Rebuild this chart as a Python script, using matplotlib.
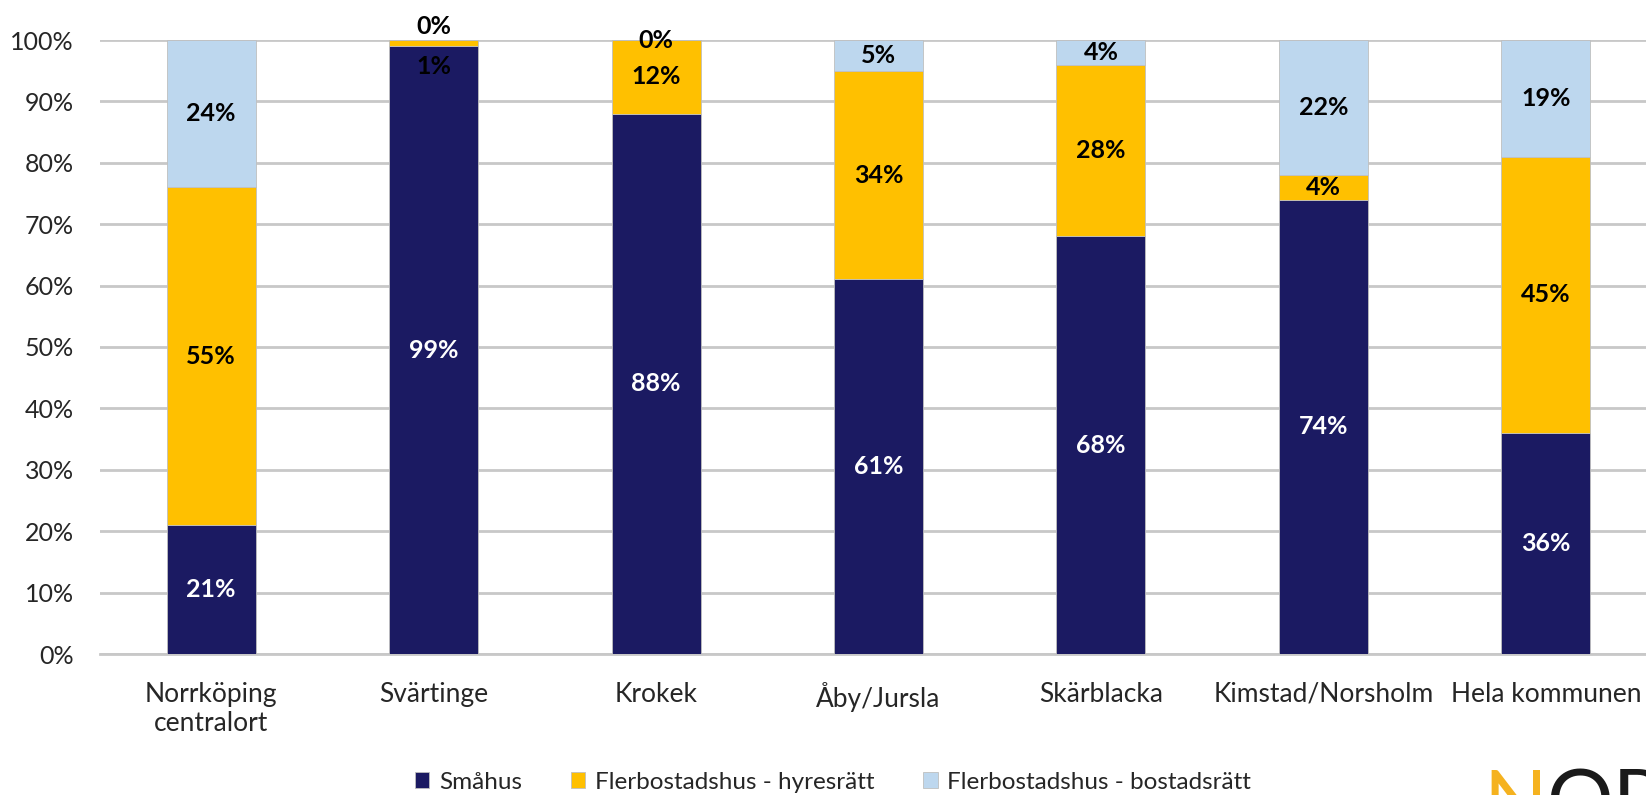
import numpy as np
import matplotlib.pyplot as plt
from matplotlib.ticker import PercentFormatter

plt.rcParams['font.family'] = ['Lato', 'DejaVu Sans']

categories = ['Norrköping\ncentralort', 'Svärtinge', 'Krokek', 'Åby/Jursla',
              'Skärblacka', 'Kimstad/Norsholm', 'Hela kommunen']
smahus = [21, 99, 88, 61, 68, 74, 36]
hyresratt = [55, 1, 12, 34, 28, 4, 45]
bostadsratt = [24, 0, 0, 5, 4, 22, 19]

series = [
    ('Småhus', smahus, '#1B1A62', 'white'),
    ('Flerbostadshus - hyresrätt', hyresratt, '#FFC000', 'black'),
    ('Flerbostadshus - bostadsrätt', bostadsratt, '#BDD7EE', 'black'),
]

# labels that would collide on thin segments get pushed (points)
nudge = {(1, 1): -17, (1, 2): 10}

fig = plt.figure(figsize=(16.46, 7.95), dpi=100)
ax = fig.add_axes([100 / 1646, 141 / 795, 1557 / 1646, 614 / 795])

x = np.arange(len(categories))
bottom = np.zeros(len(categories))
for si, (name, vals, color, tcolor) in enumerate(series):
    vals = np.array(vals, dtype=float)
    ax.bar(x, vals, 0.4, bottom=bottom, color=color, edgecolor='#BFBFBF',
           linewidth=0.6, label=name, zorder=3)
    for i, v in enumerate(vals):
        y = bottom[i] + v / 2
        dy = nudge.get((i, si), 0)
        ax.annotate(f'{v:.0f}%', (x[i], y), xytext=(0, dy), textcoords='offset points',
                    ha='center', va='center', fontsize=18, fontweight='bold',
                    color=tcolor, zorder=4)
    bottom += vals

ax.set_xlim(-0.5, 6.5)
ax.set_ylim(0, 100)
ax.set_yticks(np.arange(0, 101, 10))
ax.yaxis.set_major_formatter(PercentFormatter(decimals=0))
ax.set_xticks(x)
ax.set_xticklabels(categories)
ax.tick_params(axis='y', length=0, pad=19, labelsize=18, labelcolor='#262626')
ax.tick_params(axis='x', length=0, pad=20, labelsize=19, labelcolor='#262626')
ax.grid(axis='y', color='#C8C8C8', linewidth=2, zorder=0)
for side in ['top', 'right', 'left']:
    ax.spines[side].set_visible(False)
ax.spines['bottom'].set_color('#C8C8C8')
ax.spines['bottom'].set_linewidth(2)

fig.legend(loc='center', bbox_to_anchor=(0.506, 0.016), ncol=3, frameon=False,
           fontsize=17.5, handlelength=0.6, handleheight=0.6, handletextpad=0.4,
           columnspacing=2.0, labelcolor='#262626')

# logo fragment in the corner
fig.text(1483 / 1646, -0.044, 'N', fontsize=60, color='#F5B21F',
         va='baseline', ha='left')
fig.text(1546 / 1646, -0.044, 'OR', fontsize=60, color='#1a1a1a',
         va='baseline', ha='left')

fig.savefig('out.png', dpi=100)
